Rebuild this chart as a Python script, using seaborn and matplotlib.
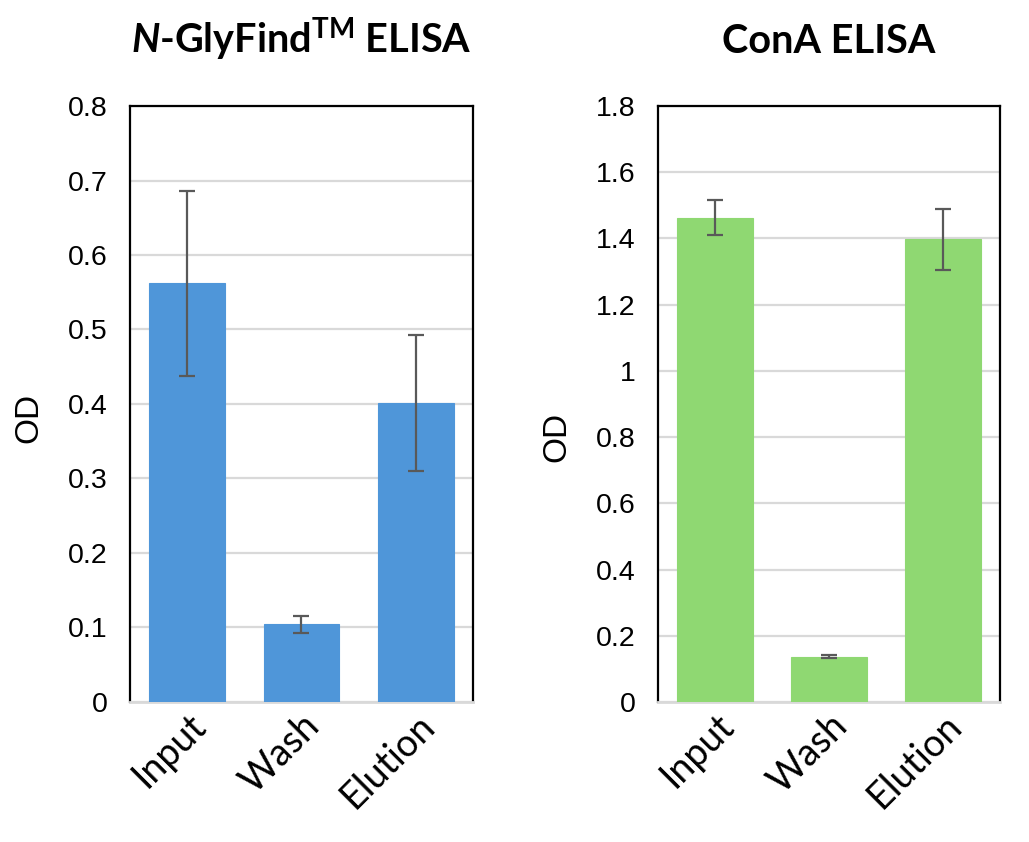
import matplotlib
matplotlib.use("Agg")
import matplotlib.pyplot as plt
import matplotlib.transforms as mtransforms
import seaborn as sns
import numpy as np

categories = ["Input", "Wash", "Elution"]
nglyfind_od = [0.562, 0.104, 0.401]
nglyfind_err = [0.124, 0.011, 0.091]
cona_od = [1.463, 0.137, 1.397]
cona_err = [0.052, 0.004, 0.092]

sns.set_theme(style="white")
plt.rcParams['font.family'] = ['Liberation Sans', 'DejaVu Sans']
plt.rcParams['text.color'] = 'black'
plt.rcParams['axes.labelcolor'] = 'black'
plt.rcParams['xtick.color'] = 'black'
plt.rcParams['ytick.color'] = 'black'
plt.rcParams['mathtext.fontset'] = 'custom'
plt.rcParams['mathtext.rm'] = 'Lato:bold'
plt.rcParams['mathtext.it'] = 'Lato:bold:italic'
plt.rcParams['mathtext.bf'] = 'Lato:bold'

fig = plt.figure(figsize=(10.29, 8.42), dpi=100)
ax1 = fig.add_axes([0.1263, 0.1663, 0.3334, 0.7078])
ax2 = fig.add_axes([0.6395, 0.1663, 0.3323, 0.7078])

def draw(ax, vals, errs, color, ymax, step, title, label_y):
    sns.barplot(x=categories, y=vals, color=color, ax=ax, width=0.66,
                saturation=1, edgecolor=color, linewidth=0.8, zorder=3)
    ax.errorbar(range(len(categories)), vals, yerr=errs, fmt='none',
                ecolor='#595959', elinewidth=1.6, capsize=6, capthick=1.6, zorder=4)
    ax.set_ylim(0, ymax)
    ax.set_xlim(-0.5, 2.5)
    ticks = np.round(np.arange(0, ymax + step / 2, step), 2)
    ax.set_yticks(ticks)
    ax.set_yticklabels([("%g" % t) for t in ticks], fontsize=20.5, color='black')
    ax.yaxis.grid(True, color='#D9D9D9', linewidth=1.6, zorder=0)
    ax.set_axisbelow(True)
    for s in ['left', 'top', 'right']:
        ax.spines[s].set_color('black')
        ax.spines[s].set_linewidth(1.6)
        ax.spines[s].set_visible(True)
    ax.spines['bottom'].set_color('#D9D9D9')
    ax.spines['bottom'].set_linewidth(2)
    ax.spines['bottom'].set_visible(True)
    ax.tick_params(axis='y', length=0, pad=16)
    ax.tick_params(axis='x', length=0, pad=4)
    ax.set_ylabel("OD", fontsize=24, color='black')
    ax.yaxis.set_label_coords(-0.25, label_y)
    ax.set_xlabel("")
    offset = mtransforms.ScaledTranslation(0.0, 0, fig.dpi_scale_trans)
    for lab in ax.get_xticklabels():
        lab.set_rotation(45)
        lab.set_ha('right')
        lab.set_rotation_mode('anchor')
        lab.set_fontsize(27)
        lab.set_color('black')
        lab.set_family(['Lato', 'DejaVu Sans'])
        lab.set_transform(lab.get_transform() + offset)
    ax.set_title(title, fontsize=28.5, fontweight='bold', color='black',
                 family=['Lato', 'DejaVu Sans'], pad=38)

draw(ax1, nglyfind_od, nglyfind_err, '#4F96D9', 0.8, 0.1,
     r"$\mathit{N}$-GlyFind$^{\mathrm{TM}}$ ELISA", 0.4765)
draw(ax2, cona_od, cona_err, '#8FD872', 1.8, 0.2, "ConA ELISA", 0.4446)

fig.savefig("out.png", dpi=100)
